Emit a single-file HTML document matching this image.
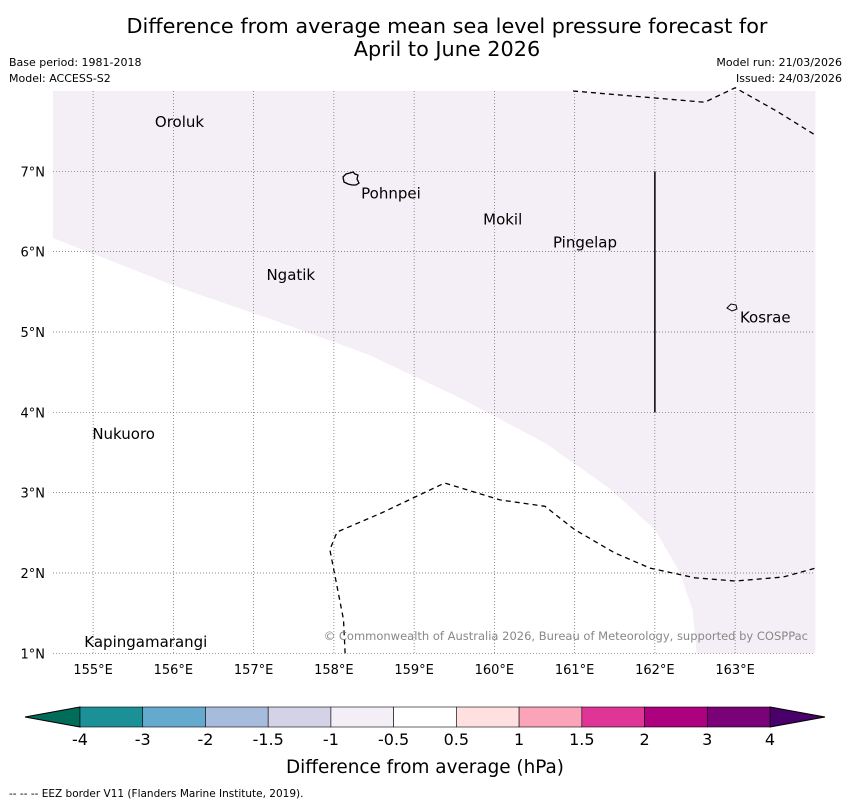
<!DOCTYPE html>
<html><head><meta charset="utf-8"><style>
body{margin:0;background:#fff;width:850px;height:804px;overflow:hidden;font-family:"DejaVu Sans","Liberation Sans",sans-serif}
svg{display:block}
</style></head><body>
<svg id="c" width="850" height="804">
<text x="447" y="33" font-size="20.8" text-anchor="middle">Difference from average mean sea level pressure forecast for</text>
<text x="447" y="56" font-size="20.8" text-anchor="middle">April to June 2026</text>
<text x="9" y="66" font-size="11">Base period: 1981-2018</text>
<text x="9" y="82" font-size="11">Model: ACCESS-S2</text>
<text x="842" y="66" font-size="11" text-anchor="end">Model run: 21/03/2026</text>
<text x="842" y="82" font-size="11" text-anchor="end">Issued: 24/03/2026</text>
<g id="map"></g>
<g id="cb"></g>
<text x="425" y="773" font-size="18.4" text-anchor="middle">Difference from average (hPa)</text>
<text x="9" y="797" font-size="10.5">--  --  -- EEZ border V11 (Flanders Marine Institute, 2019).</text>
</svg>
<script>
const lonTicks=[155,156,157,158,159,160,161,162,163];
const latTicks=[1,2,3,4,5,6,7];
const shadeLon=[154.5,156.08,157.33,158.45,159.57,160.63,161.44,162.0,162.31,162.47,162.52];
const shadeLat=[6.17,5.55,5.12,4.71,4.18,3.62,3.05,2.54,2.01,1.54,1.0];
const islandNames=["Oroluk","Pohnpei","Mokil","Pingelap","Ngatik","Kosrae","Nukuoro","Kapingamarangi"];
const islandLon=[155.77,158.34,159.86,160.73,157.16,163.06,154.99,154.89];
const islandLat=[7.55,6.66,6.34,6.05,5.65,5.12,3.67,1.08];
const cbLevels=["-4","-3","-2","-1.5","-1","-0.5","0.5","1","1.5","2","3","4"];
const cbColors=["#1b9097","#65a9cf","#a7bcdc","#d3d2e6","#f4eef6","#ffffff","#fee0e0","#fba3b9","#de3597","#ad0180","#7a0177"];
const eez1Lon=[160.98,161.8,162.62,163.0,163.5,164.0];
const eez1Lat=[8.0,7.93,7.86,8.04,7.76,7.45];
const eez2Lon=[158.14,158.12,157.95,158.04,158.6,159.38,160.07,160.63,161.0,161.5,161.94,162.5,163.0,163.6,164.0];
const eez2Lat=[1.0,1.42,2.29,2.51,2.75,3.12,2.91,2.83,2.54,2.25,2.06,1.94,1.9,1.95,2.06];
const NS='http://www.w3.org/2000/svg';
const X=l=>53+(l-154.5)*80.25, Y=l=>91+(8-l)*80.33;
const map=document.getElementById('map'), cb=document.getElementById('cb');
function mk(tag,at,par){const e=document.createElementNS(NS,tag);for(const k in at)e.setAttribute(k,at[k]);par.appendChild(e);return e;}
let d='M'+X(154.5)+','+Y(8);
shadeLon.forEach((l,i)=>d+=' L'+X(l)+','+Y(shadeLat[i]));
d+=' L'+X(164)+','+Y(1)+' L'+X(164)+','+Y(8)+'Z';
const sh=mk('path',{d:d,fill:'#f4eef6'},map);


lonTicks.forEach(l=>{
 const g=mk('line',{x1:X(l),x2:X(l),y1:91,y2:654,stroke:'#666','stroke-width':0.7,'stroke-dasharray':'1,2'},map);
 
 
 const t=mk('text',{x:X(l),y:674,'font-size':13,'text-anchor':'middle'},map);t.textContent=l+'°E';
 
 
});
latTicks.forEach(l=>{
 const g=mk('line',{x1:53,x2:815,y1:Y(l),y2:Y(l),stroke:'#666','stroke-width':0.7,'stroke-dasharray':'1,2'},map);
 
 
 const t=mk('text',{x:45,y:Y(l)+5,'font-size':13,'text-anchor':'end'},map);t.textContent=l+'°N';
 
 
});
[[eez1Lon,eez1Lat],[eez2Lon,eez2Lat]].forEach(([lo,la])=>{
 const p=mk('polyline',{points:lo.map((l,i)=>X(l)+','+Y(la[i])).join(' '),fill:'none',stroke:'#000','stroke-width':1.3,'stroke-dasharray':'5,4'},map);
 
 
});
const vl=mk('line',{x1:X(162),x2:X(162),y1:Y(7),y2:Y(4),stroke:'#000','stroke-width':1.5},map);


const pi=mk('path',{d:'M343,177 l3,-3 l4,-1 l3,-1 l2,2 l3,1 l-1,4 l2,4 l-3,2 l-4,0 l-4,-1 l-4,-2 Z',fill:'none',stroke:'#000','stroke-width':1.3},map);


const ki=mk('path',{d:'M727,308 l4,-4 l5,1 l1,4 l-5,2 Z',fill:'none',stroke:'#000','stroke-width':1},map);


islandNames.forEach((n,i)=>{
 const t=mk('text',{x:X(islandLon[i]),y:Y(islandLat[i]),'font-size':15},map);t.textContent=n;
 
 
});
const cp=mk('text',{x:808,y:640,'font-size':11.5,fill:'#888','text-anchor':'end'},map);
cp.textContent='© Commonwealth of Australia 2026, Bureau of Meteorology, supported by COSPPac';


const cx0=80,cw=690/cbColors.length;
const tl=mk('polygon',{points:'25,717 80,707 80,727',fill:'#016c59',stroke:'#000'},cb);


const tr=mk('polygon',{points:'825,717 770,707 770,727',fill:'#49006a',stroke:'#000'},cb);


cbColors.forEach((c,i)=>{
 const r=mk('rect',{x:cx0+i*cw,y:707,width:cw,height:20,fill:c,stroke:'#000','stroke-width':0.6},cb);
 
 
});
cbLevels.forEach((v,i)=>{
 const t=mk('text',{x:cx0+i*cw,y:745,'font-size':16,'text-anchor':'middle'},cb);t.textContent=v;
 
 
});
</script>
</body></html>
